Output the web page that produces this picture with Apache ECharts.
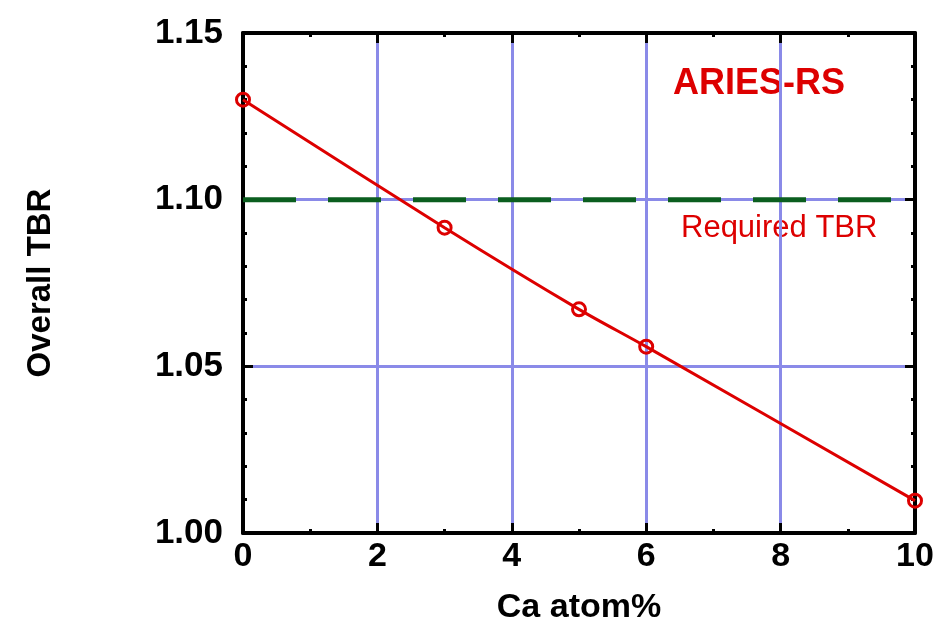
<!DOCTYPE html>
<html>
<head>
<meta charset="utf-8">
<title>Overall TBR vs Ca atom%</title>
<script src="https://cdn.jsdelivr.net/npm/echarts@6/dist/echarts.min.js"></script>
<style>
  html, body { margin: 0; padding: 0; background: #fff; }
  #chart { width: 940px; height: 624px; }
</style>
</head>
<body>
<div id="chart"></div>
<script>
// data
const caAtom = [0, 3, 5, 6, 10];
const tbr = [1.130, 1.0916, 1.0671, 1.0559, 1.0097];
const requiredTbr = 1.10;
const xRange = [0, 10];
const yRange = [1.00, 1.15];

const font = "'Liberation Sans', Arial, sans-serif";
const red = "#dd0000";
const gridBlue = "#8a8ae8";

let chart = echarts.init(document.getElementById("chart"));

const axisCommon = {
  axisLine: { show: true, onZero: false, lineStyle: { color: "#000", width: 4 } },
  axisTick: { show: true, inside: true, length: 10, lineStyle: { color: "#000", width: 3 } },
  minorTick: { show: true, length: 4, lineStyle: { color: "#000", width: 3 } },
  splitLine: { show: false }
};

chart.setOption({
  animation: false,
  grid: { left: 243, right: 25, top: 33, bottom: 91, outerBoundsMode: "none", containLabel: false },
  xAxis: [
    Object.assign({}, axisCommon, {
      type: "value",
      min: xRange[0],
      max: xRange[1],
      interval: 2,
      minorTick: Object.assign({}, axisCommon.minorTick, { splitNumber: 2 }),
      splitLine: { show: true, lineStyle: { color: gridBlue, width: 3 } },
      axisLabel: { color: "#000", fontSize: 34, fontWeight: "bold", fontFamily: font, margin: 7 },
      name: "Ca atom%",
      nameLocation: "middle",
      nameGap: 58,
      nameTextStyle: { color: "#000", fontSize: 34, fontWeight: "bold", fontFamily: font }
    }),
    Object.assign({}, axisCommon, {
      type: "value",
      position: "top",
      min: xRange[0],
      max: xRange[1],
      interval: 2,
      minorTick: Object.assign({}, axisCommon.minorTick, { splitNumber: 2 }),
      axisLabel: { show: false }
    })
  ],
  yAxis: [
    Object.assign({}, axisCommon, {
      type: "value",
      min: yRange[0],
      max: yRange[1],
      interval: 0.05,
      minorTick: Object.assign({}, axisCommon.minorTick, { splitNumber: 5 }),
      splitLine: { show: true, lineStyle: { color: gridBlue, width: 3 } },
      axisLabel: {
        color: "#000", fontSize: 35, fontWeight: "bold", fontFamily: font, margin: 20,
        formatter: v => v.toFixed(2)
      },
      name: "Overall TBR",
      nameLocation: "middle",
      nameGap: 186,
      nameTextStyle: { color: "#000", fontSize: 33, fontWeight: "bold", fontFamily: font }
    }),
    Object.assign({}, axisCommon, {
      type: "value",
      position: "right",
      min: yRange[0],
      max: yRange[1],
      interval: 0.05,
      minorTick: Object.assign({}, axisCommon.minorTick, { splitNumber: 5 }),
      axisLabel: { show: false }
    })
  ],
  series: [
    {
      name: "Required TBR",
      type: "line",
      data: [[xRange[0], requiredTbr], [xRange[1], requiredTbr]],
      symbol: "none",
      lineStyle: { color: "#0b5e1f", width: 5, type: [53, 32] },
      z: 3
    },
    {
      name: "ARIES-RS",
      type: "line",
      data: caAtom.map((x, i) => [x, tbr[i]]),
      smooth: 0.3,
      symbol: "circle",
      symbolSize: 13,
      itemStyle: { color: "rgba(255,255,255,0)", borderColor: red, borderWidth: 3 },
      lineStyle: { color: red, width: 3 },
      z: 4
    }
  ],
  graphic: [
    {
      type: "text",
      left: 673,
      top: 66,
      style: { text: "ARIES-RS", fill: red, font: "bold 36px " + font }
    },
    {
      type: "text",
      left: 681,
      top: 213,
      style: { text: "Required TBR", fill: red, font: "31px " + font }
    }
  ]
});
</script>
</body>
</html>
